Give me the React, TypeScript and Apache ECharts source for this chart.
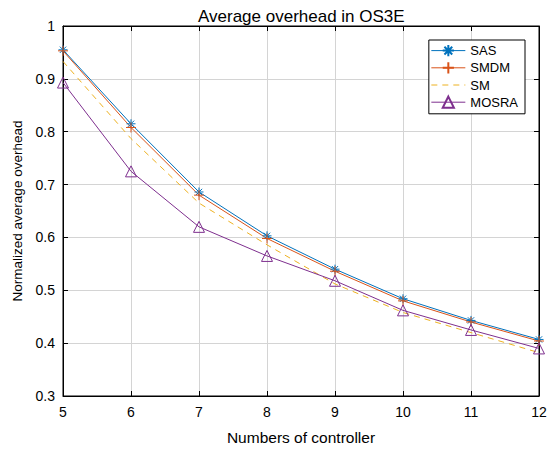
import React, { useEffect, useRef } from "react";
import * as echarts from "echarts";

const controllers = [5, 6, 7, 8, 9, 10, 11, 12];
const sasValues = [0.955, 0.815, 0.686, 0.603, 0.54, 0.484, 0.443, 0.407];
const smdmValues = [0.953, 0.808, 0.68, 0.598, 0.536, 0.48, 0.44, 0.404];
const smValues = [0.933, 0.787, 0.665, 0.586, 0.512, 0.458, 0.42, 0.382];
const mosraValues = [0.893, 0.725, 0.62, 0.565, 0.518, 0.462, 0.425, 0.39];

const FONT = "'Liberation Sans', Arial, sans-serif";
const ASTERISK = "path://M0,5L10,5M5,0L5,10M1.5,1.5L8.5,8.5M8.5,1.5L1.5,8.5";
const PLUS = "path://M0,5L10,5M5,0L5,10";

export default function App() {
  const ref = useRef<HTMLDivElement>(null);
  useEffect(() => {
    document.body.style.margin = "0";
    if (!ref.current) return;
    const chart = echarts.init(ref.current, null, { renderer: "svg" });
    const pair = (vals: number[]) => controllers.map((c, i) => [c, vals[i]]);
    const mk = (name: string, vals: number[], color: string, symbol: string, size: number, dashed = false) => ({
      name,
      type: "line",
      data: pair(vals),
      symbol,
      symbolSize: size,
      showSymbol: symbol !== "none",
      lineStyle: { color, width: 1, type: dashed ? [6, 5] : "solid" },
      itemStyle: { color: "rgba(0,0,0,0)", borderColor: color, borderWidth: 1 },
      emphasis: { disabled: true },
    });
    chart.setOption({
      animation: false,
      backgroundColor: "#fff",
      title: {
        text: "Average overhead in OS3E",
        left: 193,
        top: 3,
        textStyle: { fontFamily: FONT, fontSize: 17, fontWeight: "normal", color: "#000" },
      },
      grid: { left: 63, right: 16, top: 26, bottom: 49, show: true, borderColor: "#000", borderWidth: 1 },
      legend: {
        orient: "vertical",
        right: 30,
        top: 40,
        itemWidth: 34,
        itemHeight: 14,
        itemGap: 4,
        padding: [4, 7, 5, 2],
        backgroundColor: "#fff",
        borderColor: "#000",
        borderWidth: 1,
        borderRadius: 0,
        lineStyle: { width: 1 },
        textStyle: { fontFamily: FONT, fontSize: 13, color: "#000" },
        data: ["SAS", "SMDM", { name: "SM", itemStyle: { opacity: 0 } }, "MOSRA"],
      },
      xAxis: [
        {
          type: "value",
          min: 5,
          max: 12,
          interval: 1,
          name: "Numbers of controller",
          nameLocation: "middle",
          nameGap: 33,
          nameTextStyle: { fontFamily: FONT, fontSize: 15.5, color: "#000" },
          axisLine: { show: true, lineStyle: { color: "#000" } },
          axisTick: { show: true, inside: true, length: 5, lineStyle: { color: "#000" } },
          axisLabel: { fontFamily: FONT, fontSize: 14, color: "#000", margin: 9 },
          splitLine: { show: true, lineStyle: { color: "#d4d4d4" } },
        },
        {
          type: "value",
          position: "top",
          min: 5,
          max: 12,
          interval: 1,
          axisLine: { show: true, lineStyle: { color: "#000" } },
          axisTick: { show: true, inside: true, length: 5, lineStyle: { color: "#000" } },
          axisLabel: { show: false },
          splitLine: { show: false },
        },
      ],
      yAxis: [
        {
          type: "value",
          min: 0.3,
          max: 1,
          interval: 0.1,
          name: "Normalized average overhead",
          nameLocation: "middle",
          nameGap: 35,
          nameTextStyle: { fontFamily: FONT, fontSize: 13.5, color: "#000" },
          axisLine: { show: true, lineStyle: { color: "#000" } },
          axisTick: { show: true, inside: true, length: 5, lineStyle: { color: "#000" } },
          axisLabel: {
            fontFamily: FONT,
            fontSize: 14,
            color: "#000",
            margin: 8,
            formatter: (v: number) => String(Math.round(v * 10) / 10),
          },
          splitLine: { show: true, lineStyle: { color: "#d4d4d4" } },
        },
        {
          type: "value",
          position: "right",
          min: 0.3,
          max: 1,
          interval: 0.1,
          axisLine: { show: true, lineStyle: { color: "#000" } },
          axisTick: { show: true, inside: true, length: 5, lineStyle: { color: "#000" } },
          axisLabel: { show: false },
          splitLine: { show: false },
        },
      ],
      series: [
        mk("SAS", sasValues, "#0072BD", ASTERISK, 9),
        mk("SMDM", smdmValues, "#D95319", PLUS, 10),
        mk("SM", smValues, "#EDB120", "none", 0, true),
        mk("MOSRA", mosraValues, "#7E2F8E", "triangle", 11),
      ],
    });
    return () => chart.dispose();
  }, []);
  return <div ref={ref} style={{ width: 555, height: 450 }} />;
}
